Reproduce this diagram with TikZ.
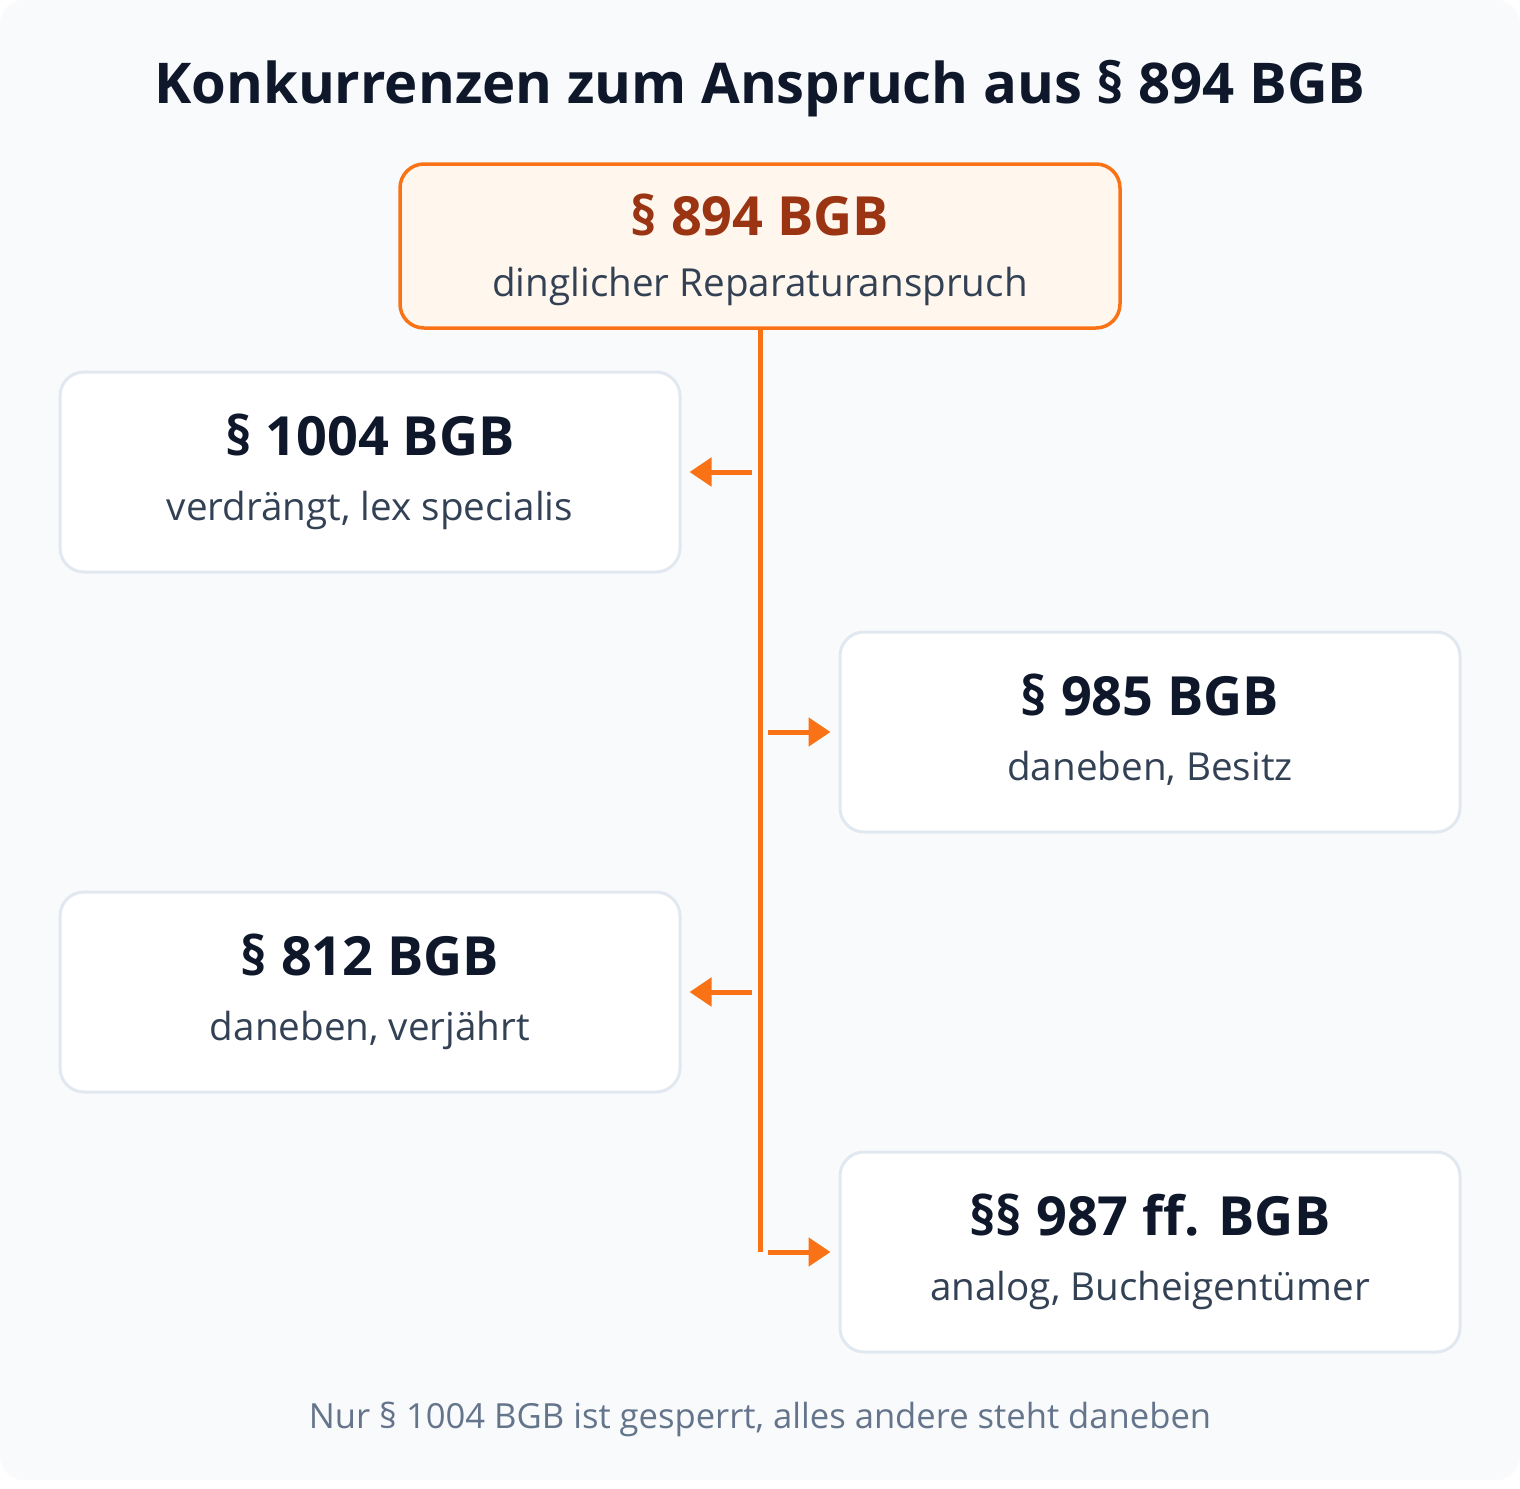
\documentclass[tikz,border=0pt]{standalone}
\usepackage{fontspec}
\setmainfont{Open Sans}
\usetikzlibrary{arrows.meta}
\definecolor{bgcol}{HTML}{F8FAFC}
\definecolor{ink}{HTML}{0F172A}
\definecolor{subink}{HTML}{334155}
\definecolor{footink}{HTML}{64748B}
\definecolor{rust}{HTML}{9A3412}
\definecolor{orangeline}{HTML}{F97316}
\definecolor{cream}{HTML}{FFF7ED}
\definecolor{grayline}{HTML}{E2E8F0}
\tikzset{box/.style = {shape=rectangle,draw=grayline,line width=1.5pt,fill=white,rounded corners=12pt,minimum width=310pt,minimum height=100pt,inner sep=0pt}}
\tikzset{mainbox/.style = {box,draw=orangeline,line width=1.75pt,fill=cream,minimum width=360pt,minimum height=82pt}}
\tikzset{head/.style = {anchor=base,font=\bfseries\fontsize{27}{32}\selectfont,text=ink}}
\tikzset{sub/.style = {anchor=base,font=\fontsize{19.3}{23}\selectfont,text=subink}}
\tikzset{arr/.style = {draw=orangeline,line width=2.5pt,-{Triangle[length=11pt,width=14pt]}}}

\begin{document}
\begin{tikzpicture}[x=0.5pt,y=-0.5pt]
                \useasboundingbox[fill=white] (0,0) rectangle (1520,1488);
                \fill[bgcol,rounded corners=12pt] (0,0) rectangle (1520,1480);

                \node[anchor=base,font=\bfseries\fontsize{28.1}{33}\selectfont,text=ink] (title) at (760,103) {Konkurrenzen zum Anspruch aus § 894 BGB};

                \node[mainbox] (m894) at (760,246) {};
                \node[head,text=rust] (m894h) at ([yshift=5.5pt]m894.center) {§ 894 BGB};
                \node[sub] (m894s) at ([yshift=-25pt]m894.center) {dinglicher Reparaturanspruch};

                \node[box] (b1004) at (370,472) {};
                \node[box] (b985) at (1150,732) {};
                \node[box] (b812) at (370,992) {};
                \node[box] (b987) at (1150,1252) {};

                \node[head] (b1004h) at ([yshift=8.5pt]b1004.center) {§ 1004 BGB};
                \node[sub] (b1004s) at ([yshift=-24pt]b1004.center) {verdrängt, lex specialis};
                \node[head] (b985h) at ([yshift=8.5pt]b985.center) {§ 985 BGB};
                \node[sub] (b985s) at ([yshift=-24pt]b985.center) {daneben, Besitz};
                \node[head] (b812h) at ([yshift=8.5pt]b812.center) {§ 812 BGB};
                \node[sub] (b812s) at ([yshift=-24pt]b812.center) {daneben, verjährt};
                \node[head] (b987h) at ([yshift=8.5pt]b987.center) {§§ 987 ff. BGB};
                \node[sub] (b987s) at ([yshift=-24pt]b987.center) {analog, Bucheigentümer};

                \coordinate (tend) at (760,1252);
                \coordinate (s1004) at (752,472);
                \coordinate (s985) at (768,732);
                \coordinate (s812) at (752,992);
                \coordinate (s987) at (768,1252);

                \draw[draw=orangeline,line width=2.5pt] (m894.south) -- (tend);
                \draw[arr,shorten >=4pt] (s1004) -- (b1004.east);
                \draw[arr,shorten >=4pt] (s985) -- (b985.west);
                \draw[arr,shorten >=4pt] (s812) -- (b812.east);
                \draw[arr,shorten >=4pt] (s987) -- (b987.west);

                \node[anchor=base,font=\fontsize{17.3}{21}\selectfont,text=footink] (foot) at (760,1428) {Nur § 1004 BGB ist gesperrt, alles andere steht daneben};
            \end{tikzpicture}
\end{document}
